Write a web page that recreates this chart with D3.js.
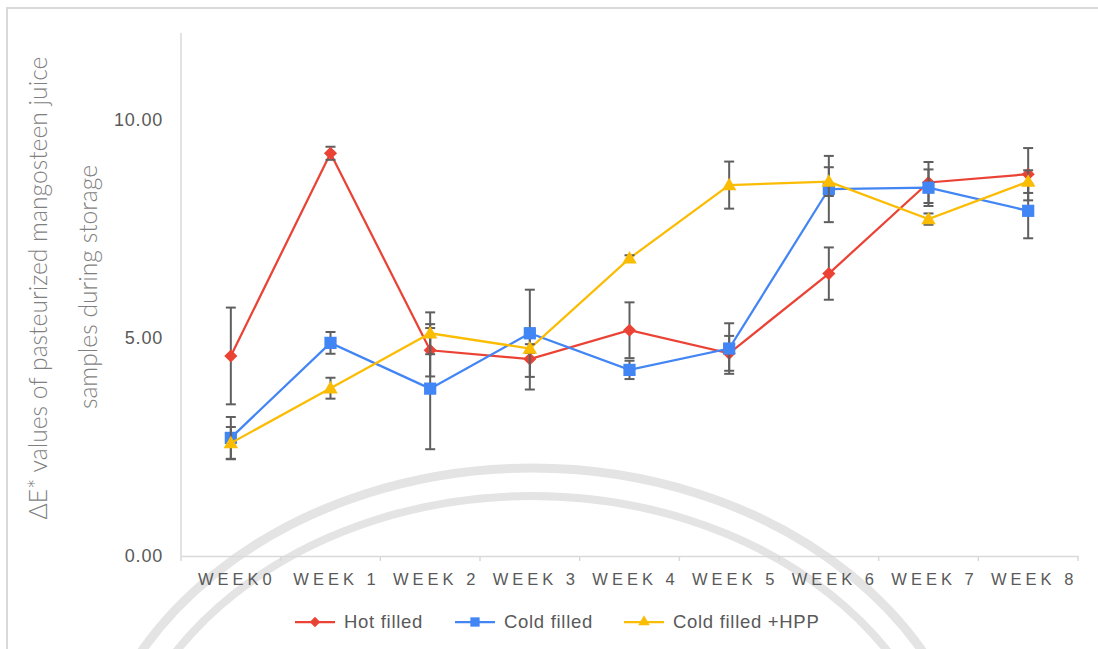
<!DOCTYPE html>
<html>
<head>
<meta charset="utf-8">
<script src="https://cdn.jsdelivr.net/npm/d3@7"></script>
<style>
  body { margin: 0; background: #fff; }
  svg { display: block; }
</style>
</head>
<body>
<div id="chart"></div>
<script>
"use strict";
// data
const weeks = ["WEEK0", "WEEK 1", "WEEK 2", "WEEK 3", "WEEK 4", "WEEK 5", "WEEK 6", "WEEK 7", "WEEK 8"];
const seriesNames = ["Hot filled", "Cold filled", "Cold filled +HPP"];
const hotFilled = [4.59, 9.24, 4.72, 4.52, 5.18, 4.65, 6.48, 8.57, 8.76];
const hotErr = [1.11, 0.15, 0.60, 0.70, 0.64, 0.40, 0.60, 0.47, 0.60];
const coldFilled = [2.71, 4.89, 3.84, 5.11, 4.27, 4.76, 8.42, 8.45, 7.92];
const coldErr = [0.48, 0.25, 1.39, 1.00, 0.21, 0.58, 0.76, 0.42, 0.63];
const coldHpp = [2.59, 3.85, 5.11, 4.76, 6.83, 8.51, 8.59, 7.73, 8.59];
const hppErr = [0.37, 0.24, 0.48, 0.10, 0.07, 0.54, 0.33, 0.13, 0.26];
const yTicks = [0, 5, 10];

const width = 1098, height = 649;
const colors = ["#ea4335", "#4285f4", "#fbbc04"];
const symbols = [d3.symbolDiamond2, d3.symbolSquare2, d3.symbolTriangle2];
const textColor = "#595959";
const axisColor = "#d9d9d9";

const svg = d3.select("#chart").append("svg")
    .attr("width", width)
    .attr("height", height);

// frame of the chart area
svg.append("rect")
    .attr("x", 7).attr("y", 8)
    .attr("width", 1200).attr("height", 800)
    .attr("fill", "none")
    .attr("stroke", axisColor)
    .attr("stroke-width", 2);

// faint watermark arcs
const wm = svg.append("g").attr("fill", "none").attr("stroke", "#e4e4e4");
wm.append("ellipse").attr("cx", 532).attr("cy", 830).attr("rx", 449).attr("ry", 362).attr("stroke-width", 9);
wm.append("ellipse").attr("cx", 532).attr("cy", 830).attr("rx", 421).attr("ry", 334).attr("stroke-width", 8);

const x = d3.scaleBand().domain(weeks).range([181, 1078]);
const y = d3.scaleLinear().domain([0, 12]).range([556, 33]);

// y axis: line + labels only
svg.append("line")
    .attr("x1", x.range()[0]).attr("x2", x.range()[0])
    .attr("y1", y(12)).attr("y2", y(0))
    .attr("stroke", axisColor).attr("stroke-width", 1.5);

svg.selectAll(".ytick")
    .data(yTicks)
    .enter().append("text")
        .attr("class", "ytick")
        .attr("x", 163)
        .attr("y", d => y(d))
        .attr("dy", "0.35em")
        .attr("text-anchor", "end")
        .attr("font-family", "Liberation Sans, Arial, sans-serif")
        .attr("font-size", "18px")
        .attr("letter-spacing", "0.8px")
        .attr("fill", textColor)
        .text(d => d3.format(".2f")(d));

// x axis
const xAxis = svg.append("g")
    .attr("transform", "translate(0," + y(0) + ")")
    .call(d3.axisBottom(x).tickSize(0).tickPadding(0).tickFormat(""));
xAxis.select(".domain").attr("stroke", axisColor).attr("stroke-width", 1.5);
xAxis.selectAll(".tick").remove();

const bounds = d3.range(weeks.length + 1).map(i => x.range()[0] + i * x.step());
svg.selectAll(".xtick")
    .data(bounds)
    .enter().append("line")
        .attr("x1", d => d).attr("x2", d => d)
        .attr("y1", y(0)).attr("y2", y(0) + 5)
        .attr("stroke", axisColor).attr("stroke-width", 1.5);

svg.selectAll(".xlabel")
    .data(weeks)
    .enter().append("text")
        .attr("x", d => x(d) + x.bandwidth() / 2 + 6)
        .attr("y", 585)
        .attr("text-anchor", "middle")
        .attr("font-family", "Liberation Sans, Arial, sans-serif")
        .attr("font-size", "16.5px")
        .attr("letter-spacing", "4px")
        .attr("fill", textColor)
        .text(d => d);

// y axis title, two lines
const titleLines = ["\u0394E* values of pasteurized mangosteen juice", "samples during storage"];
const titlePos = [{x: 47, y: 288}, {x: 97, y: 287}];
svg.selectAll(".ytitle")
    .data(titleLines)
    .enter().append("text")
        .attr("transform", (d, i) => "translate(" + titlePos[i].x + "," + titlePos[i].y + ") rotate(-90)")
        .attr("text-anchor", "middle")
        .attr("font-family", "Lato, Open Sans, sans-serif")
        .attr("font-weight", 300)
        .attr("font-size", "24.7px")
        .attr("fill", "#7f7f7f")
        .text(d => d);

// series
const series = [
    {name: seriesNames[0], values: hotFilled, err: hotErr},
    {name: seriesNames[1], values: coldFilled, err: coldErr},
    {name: seriesNames[2], values: coldHpp, err: hppErr}
];

const line = d3.line()
    .x((d, i) => x(weeks[i]) + x.bandwidth() / 2)
    .y(d => y(d));

series.forEach(function(s, k) {
    const g = svg.append("g");
    g.append("path")
        .datum(s.values)
        .attr("d", line)
        .attr("fill", "none")
        .attr("stroke", colors[k])
        .attr("stroke-width", 2.25);

    const pts = s.values.map((v, i) => ({cx: x(weeks[i]) + x.bandwidth() / 2, v: v, e: s.err[i]}));
    const eb = g.selectAll(".eb").data(pts).enter().append("g")
        .attr("stroke", "#5f5f5f").attr("stroke-width", 2);
    eb.append("line")
        .attr("x1", d => d.cx).attr("x2", d => d.cx)
        .attr("y1", d => y(d.v + d.e)).attr("y2", d => y(d.v - d.e));
    eb.append("line")
        .attr("x1", d => d.cx - 5).attr("x2", d => d.cx + 5)
        .attr("y1", d => y(d.v + d.e)).attr("y2", d => y(d.v + d.e));
    eb.append("line")
        .attr("x1", d => d.cx - 5).attr("x2", d => d.cx + 5)
        .attr("y1", d => y(d.v - d.e)).attr("y2", d => y(d.v - d.e));

    g.selectAll(".mk").data(pts).enter().append("path")
        .attr("transform", d => "translate(" + d.cx + "," + (y(d.v) + (k === 2 ? 1 : 0)) + ")")
        .attr("d", d3.symbol().type(symbols[k]).size(k === 0 ? 110 : (k === 1 ? 190 : 150)))
        .attr("fill", colors[k]);
});

// legend
const legendX = [295, 455, 624];
const legend = svg.selectAll(".legend")
    .data(series)
    .enter().append("g")
        .attr("transform", (d, i) => "translate(" + legendX[i] + ",622)");
legend.append("line")
    .attr("x1", 0).attr("x2", 40)
    .attr("stroke", (d, i) => colors[i])
    .attr("stroke-width", 2.25);
legend.append("path")
    .attr("transform", "translate(20,0)")
    .attr("d", (d, i) => d3.symbol().type(symbols[i]).size(i === 0 ? 70 : (i === 1 ? 110 : 95))())
    .attr("fill", (d, i) => colors[i]);
legend.append("text")
    .attr("x", 49)
    .attr("dy", "0.35em")
    .attr("font-family", "Liberation Sans, Arial, sans-serif")
    .attr("font-size", "18.5px")
    .attr("letter-spacing", "0.7px")
    .attr("fill", textColor)
    .text(d => d.name);
</script>
</body>
</html>
